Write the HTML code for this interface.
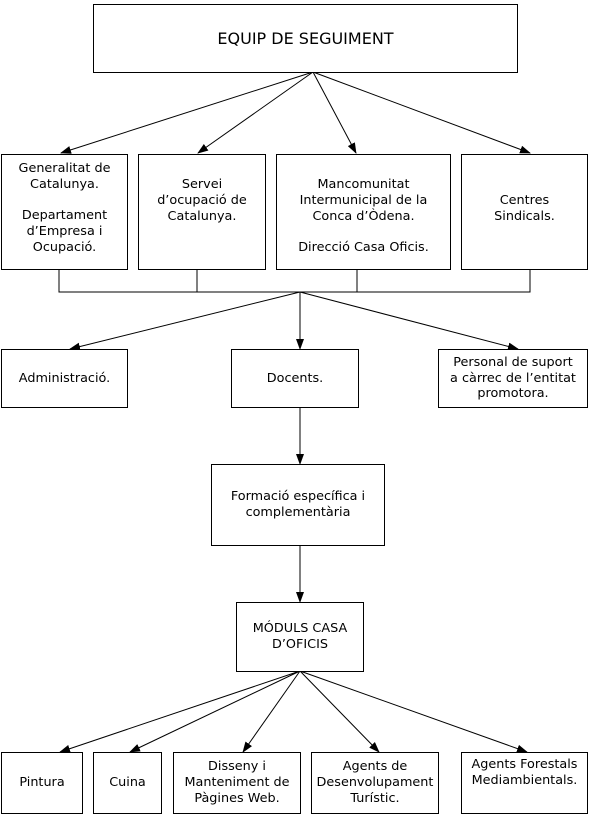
<!DOCTYPE html>
<html><head><meta charset="utf-8"><style>
body{margin:0;background:#fff;width:600px;height:811px;overflow:hidden;position:relative;font-family:"DejaVu Sans","Liberation Sans",sans-serif;font-size:12.8px;color:#000}
.b{position:absolute;border:1px solid #000;box-sizing:border-box;display:flex;align-items:center;justify-content:center;text-align:center;line-height:15.8px;background:#fff}
svg{position:absolute;left:0;top:0}
</style></head><body>
<svg width="600" height="811">
<defs><marker id="a" markerWidth="11" markerHeight="8" refX="10" refY="4" orient="auto" markerUnits="userSpaceOnUse"><path d="M0,0L11,4L0,8z" fill="#000"/></marker></defs>
<g stroke="#000" stroke-width="1" fill="none">
<line x1="313" y1="72" x2="61" y2="153" marker-end="url(#a)"/>
<line x1="313" y1="72" x2="198" y2="153" marker-end="url(#a)"/>
<line x1="313" y1="72" x2="356" y2="153" marker-end="url(#a)"/>
<line x1="313" y1="72" x2="530" y2="153" marker-end="url(#a)"/>
<polyline points="59,269 59,292 530,292 530,269"/>
<line x1="197" y1="269" x2="197" y2="292"/>
<line x1="357" y1="269" x2="357" y2="292"/>
<line x1="300" y1="292" x2="70" y2="349" marker-end="url(#a)"/>
<line x1="300" y1="292" x2="300" y2="349" marker-end="url(#a)"/>
<line x1="300" y1="292" x2="518" y2="349" marker-end="url(#a)"/>
<line x1="300" y1="407" x2="300" y2="464" marker-end="url(#a)"/>
<line x1="300" y1="545" x2="300" y2="602" marker-end="url(#a)"/>
<line x1="300" y1="671" x2="60" y2="752" marker-end="url(#a)"/>
<line x1="300" y1="671" x2="130" y2="752" marker-end="url(#a)"/>
<line x1="300" y1="671" x2="243" y2="752" marker-end="url(#a)"/>
<line x1="300" y1="671" x2="379" y2="752" marker-end="url(#a)"/>
<line x1="300" y1="671" x2="527" y2="752" marker-end="url(#a)"/>
</g></svg>
<div class="b" style="left:93px;top:4px;width:425px;height:69px;font-size:16px">EQUIP DE SEGUIMENT</div>
<div class="b" style="left:1px;top:154px;width:127px;height:116px;align-items:flex-start;padding-top:6px">Generalitat de<br>Catalunya.<br><br>Departament<br>d’Empresa i<br>Ocupació.</div>
<div class="b" style="left:138px;top:154px;width:128px;height:116px;align-items:flex-start;padding-top:22px">Servei<br>d’ocupació de<br>Catalunya.</div>
<div class="b" style="left:276px;top:154px;width:175px;height:116px;align-items:flex-start;padding-top:22px">Mancomunitat<br>Intermunicipal de la<br>Conca d’Òdena.<br><br>Direcció Casa Oficis.</div>
<div class="b" style="left:461px;top:154px;width:127px;height:116px;align-items:flex-start;padding-top:38px">Centres<br>Sindicals.</div>
<div class="b" style="left:1px;top:349px;width:127px;height:59px">Administració.</div>
<div class="b" style="left:231px;top:349px;width:128px;height:59px">Docents.</div>
<div class="b" style="left:438px;top:349px;width:150px;height:59px">Personal de suport<br>a càrrec de l’entitat<br>promotora.</div>
<div class="b" style="left:211px;top:464px;width:174px;height:82px">Formació específica i<br>complementària</div>
<div class="b" style="left:236px;top:602px;width:128px;height:70px">MÓDULS CASA<br>D’OFICIS</div>
<div class="b" style="left:1px;top:752px;width:82px;height:62px">Pintura</div>
<div class="b" style="left:93px;top:752px;width:69px;height:62px">Cuina</div>
<div class="b" style="left:173px;top:752px;width:128px;height:62px">Disseny i<br>Manteniment de<br>Pàgines Web.</div>
<div class="b" style="left:311px;top:752px;width:128px;height:62px">Agents de<br>Desenvolupament<br>Turístic.</div>
<div class="b" style="left:461px;top:752px;width:127px;height:62px;align-items:flex-start;padding-top:4px">Agents Forestals<br>Mediambientals.</div>
</body></html>
